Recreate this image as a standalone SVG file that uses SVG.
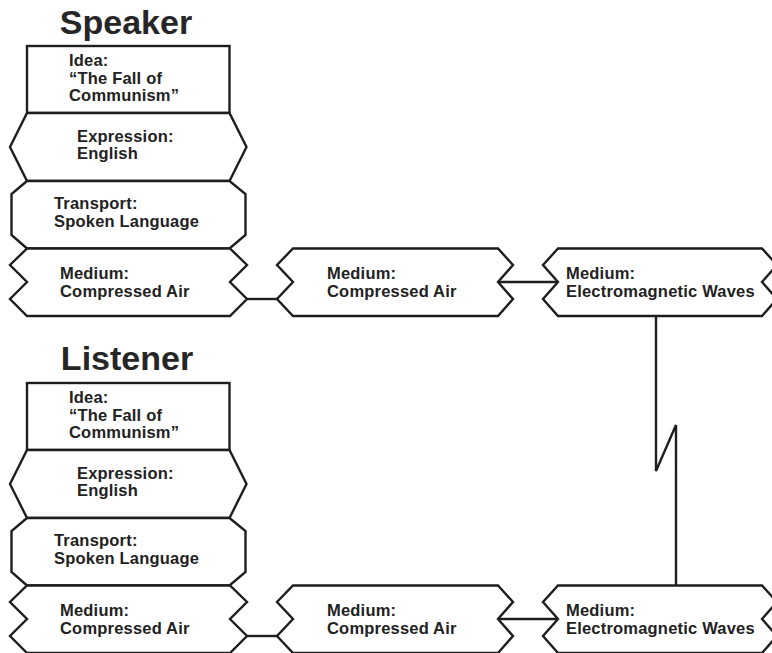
<svg xmlns="http://www.w3.org/2000/svg" width="772" height="653" viewBox="0 0 772 653">
<style>
  .box { fill: #ffffff; stroke: #1e1e1e; stroke-width: 2.4; stroke-linejoin: miter; }
  .conn { fill: none; stroke: #1e1e1e; stroke-width: 2.4; stroke-linejoin: miter; }
  .lbl { font-family: "Liberation Sans", Arial, Helvetica, sans-serif; font-weight: bold; font-size: 16.5px; letter-spacing: 0.2px; fill: #222222; }
  .title { font-family: "Liberation Sans", Arial, Helvetica, sans-serif; font-weight: bold; font-size: 34px; fill: #262626; text-anchor: middle; }
</style>
<defs>
  <polygon id="shpExpr" points="27,113 229.5,113 246.5,147 229.5,181 27,181 10,147"/>
  <polygon id="shpTrans" points="27,181 229.5,181 245.5,194 245.5,235 229.5,248.5 27,248.5 11.5,235 11.5,194"/>
  <polygon id="shpMed" points="0,0 203,0 220,16.5 203,33.5 220,50.5 203,67.5 0,67.5 -17,50.5 0,33.5 -17,16.5"/>
</defs>
<rect x="0" y="0" width="772" height="653" fill="#ffffff"/>

<g id="speaker-title"><text class="title" x="126" y="34">Speaker</text></g>

<g id="speaker-idea">
  <rect class="box" x="27" y="46" width="202.5" height="67"/>
  <text class="lbl" x="69" y="66">Idea:</text>
  <text class="lbl" x="69" y="83.5">“The Fall of</text>
  <text class="lbl" x="69" y="101">Communism”</text>
</g>
<g id="speaker-expression">
  <use href="#shpExpr" class="box"/>
  <text class="lbl" x="77" y="141.5">Expression:</text>
  <text class="lbl" x="77" y="159">English</text>
</g>
<g id="speaker-transport">
  <use href="#shpTrans" class="box"/>
  <text class="lbl" x="54" y="209">Transport:</text>
  <text class="lbl" x="54" y="227">Spoken Language</text>
</g>
<g id="speaker-medium">
  <use href="#shpMed" class="box" x="27" y="248.5"/>
  <text class="lbl" x="60" y="279">Medium:</text>
  <text class="lbl" x="60" y="297">Compressed Air</text>
</g>
<g id="top-mid-medium">
  <polygon class="box" points="293,248.5 498,248.5 513,265 498,282 513,299 498,316 293,316 277,299 293,282 277,265"/>
  <text class="lbl" x="327" y="279">Medium:</text>
  <text class="lbl" x="327" y="297">Compressed Air</text>
</g>
<g id="top-em-medium">
  <polygon class="box" points="558,248.5 762,248.5 777,265 762,282 777,299 762,316 558,316 543,299 558,282 543,265"/>
  <text class="lbl" x="566" y="279">Medium:</text>
  <text class="lbl" x="566" y="297">Electromagnetic Waves</text>
</g>

<g id="listener-title"><text class="title" x="127" y="370">Listener</text></g>

<g id="listener-idea">
  <rect class="box" x="27" y="383" width="202.5" height="67"/>
  <text class="lbl" x="69" y="403">Idea:</text>
  <text class="lbl" x="69" y="420.5">“The Fall of</text>
  <text class="lbl" x="69" y="438">Communism”</text>
</g>
<g id="listener-expression">
  <use href="#shpExpr" class="box" y="337"/>
  <text class="lbl" x="77" y="478.5">Expression:</text>
  <text class="lbl" x="77" y="496">English</text>
</g>
<g id="listener-transport">
  <use href="#shpTrans" class="box" y="337"/>
  <text class="lbl" x="54" y="546">Transport:</text>
  <text class="lbl" x="54" y="564">Spoken Language</text>
</g>
<g id="listener-medium">
  <use href="#shpMed" class="box" x="27" y="585.5"/>
  <text class="lbl" x="60" y="616">Medium:</text>
  <text class="lbl" x="60" y="634">Compressed Air</text>
</g>
<g id="bottom-mid-medium">
  <polygon class="box" points="293,585.5 498,585.5 513,602 498,619 513,636 498,653 293,653 277,636 293,619 277,602"/>
  <text class="lbl" x="327" y="616">Medium:</text>
  <text class="lbl" x="327" y="634">Compressed Air</text>
</g>
<g id="bottom-em-medium">
  <polygon class="box" points="558,585.5 762,585.5 777,602 762,619 777,636 762,653 558,653 543,636 558,619 543,602"/>
  <text class="lbl" x="566" y="616">Medium:</text>
  <text class="lbl" x="566" y="634">Electromagnetic Waves</text>
</g>

<g id="connectors">
  <line class="conn" x1="247" y1="299" x2="277" y2="299"/>
  <line class="conn" x1="498" y1="282" x2="558" y2="282"/>
  <polyline class="conn" points="656,316 656,471 676,425 676,585.5"/>
  <line class="conn" x1="247" y1="636" x2="277" y2="636"/>
  <line class="conn" x1="498" y1="619" x2="558" y2="619"/>
</g>
</svg>
